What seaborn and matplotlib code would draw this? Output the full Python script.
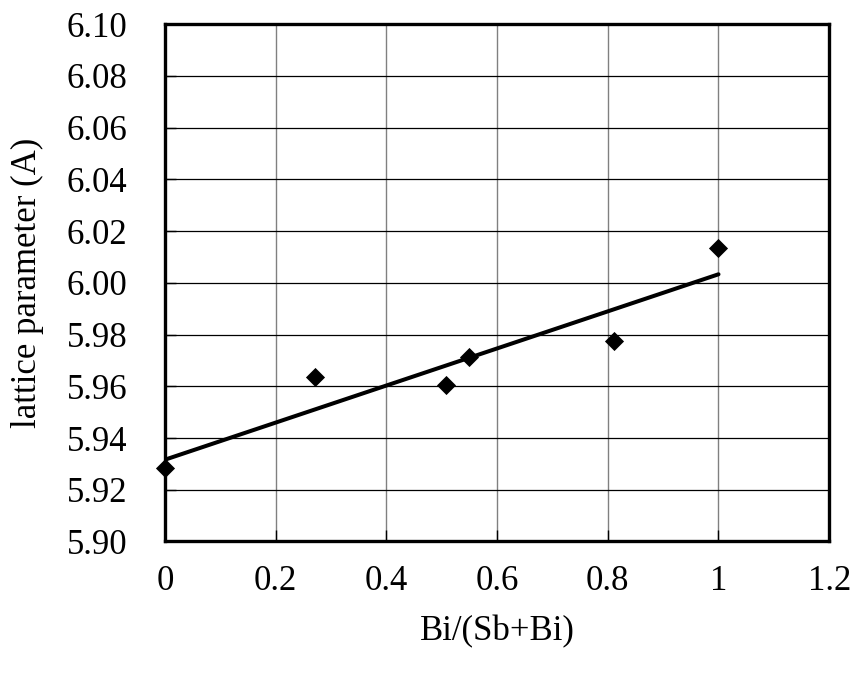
import matplotlib
matplotlib.use("Agg")
import matplotlib.pyplot as plt
import seaborn as sns
import pandas as pd

# Data
bi_fraction = [0.0, 0.272, 0.508, 0.550, 0.812, 1.0]
lattice_param = [5.9284, 5.9635, 5.9607, 5.9714, 5.9774, 6.0136]

x_ticks = [0, 0.2, 0.4, 0.6, 0.8, 1.0, 1.2]
x_tick_labels = ["0", "0.2", "0.4", "0.6", "0.8", "1", "1.2"]
y_ticks = [5.90, 5.92, 5.94, 5.96, 5.98, 6.00, 6.02, 6.04, 6.06, 6.08, 6.10]
y_tick_labels = [f"{v:.2f}" for v in y_ticks]

df = pd.DataFrame({"x": bi_fraction, "y": lattice_param})

sns.set_theme(style="white")
plt.rcParams["font.family"] = ["Liberation Serif", "DejaVu Serif"]

fig = plt.figure(figsize=(8.54, 6.74), dpi=100)
ax = fig.add_axes([0.193, 0.1966, 0.778, 0.7674])

sns.regplot(data=df, x="x", y="y", ax=ax, ci=None, marker="D", color="black",
            scatter_kws={"s": 95, "linewidths": 0, "zorder": 5, "alpha": 1.0,
                         "clip_on": False},
            line_kws={"linewidth": 2.9, "zorder": 3, "alpha": 1.0})

ax.set_xlim(0, 1.2)
ax.set_ylim(5.90, 6.10)
ax.set_xticks(x_ticks)
ax.set_xticklabels(x_tick_labels)
ax.set_yticks(y_ticks)
ax.set_yticklabels(y_tick_labels)

ax.xaxis.grid(True, color="#808080", linewidth=1.0)
ax.yaxis.grid(True, color="black", linewidth=0.9)
ax.set_axisbelow(True)

for s in ax.spines.values():
    s.set_visible(True)
    s.set_color("black")
    s.set_linewidth(2.4)

ax.tick_params(axis="both", direction="in", length=8, width=1, color="black",
               labelsize=25, labelcolor="black")
ax.tick_params(axis="y", pad=27)
ax.tick_params(axis="x", pad=17)
ax.tick_params(left=True, bottom=True)

ax.set_xlabel("Bi/(Sb+Bi)", fontsize=25, labelpad=12, color="black")
ax.set_ylabel("lattice parameter (A)", fontsize=25, labelpad=16, color="black")

fig.savefig("out.png", dpi=100)
